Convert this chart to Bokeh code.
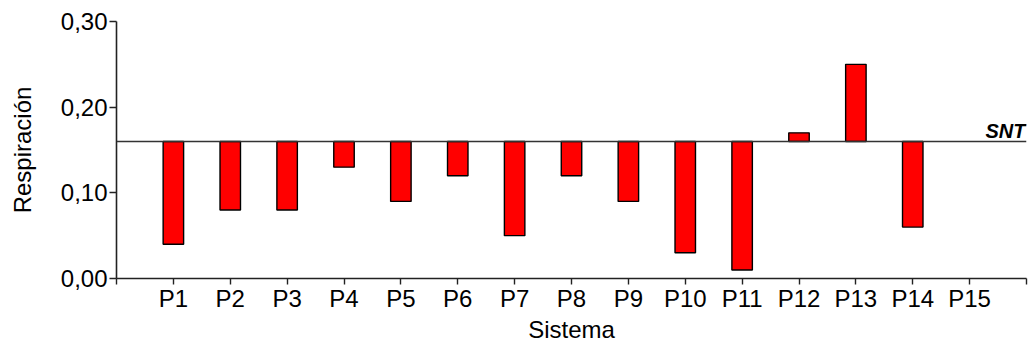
from bokeh.plotting import figure
from bokeh.models import Range1d, FixedTicker, CustomJSTickFormatter, Span, ColumnDataSource
from bokeh.core.properties import value
from bokeh.embed import file_html
from bokeh.resources import INLINE

categories = ["P1", "P2", "P3", "P4", "P5", "P6", "P7", "P8", "P9", "P10",
              "P11", "P12", "P13", "P14", "P15"]
respiracion = [0.04, 0.08, 0.08, 0.13, 0.09, 0.12, 0.05, 0.12, 0.09, 0.03,
               0.01, 0.17, 0.25, 0.06]
snt = 0.16
snt_label = "SNT"
y_ticks = [0.0, 0.1, 0.2, 0.3]

FONT = "Liberation Sans"

n = len(categories)
xs = list(range(1, len(respiracion) + 1))
src = ColumnDataSource(dict(x=xs, top=respiracion, bottom=[snt] * len(respiracion)))

p = figure(width=1028, height=345, x_range=Range1d(0, n + 1), y_range=Range1d(0, 0.30),
           output_backend="svg", toolbar_location=None,
           min_border_left=116, min_border_right=2, min_border_top=21, min_border_bottom=67)
p.outline_line_color = None
p.xgrid.visible = False
p.ygrid.visible = False
p.background_fill_color = "white"
p.border_fill_color = "white"

p.vbar(x="x", width=0.36, top="top", bottom="bottom", source=src,
       fill_color="#ff0000", line_color="#000000", line_width=1.4)

p.add_layout(Span(location=snt, dimension="width", line_color="#333333", line_width=1.6))
p.text(x=[n + 1], y=[snt], text=[snt_label], text_align="right", text_baseline="alphabetic",
       x_offset=-1, y_offset=-10, text_font=value(FONT), text_font_size="20px",
       text_font_style="bold italic", text_color="#000000")

# x axis
xa = p.xaxis[0]
xa.ticker = FixedTicker(ticks=list(range(0, n + 2)))
overrides = {0: "", n + 1: ""}
for i, c in enumerate(categories):
    overrides[i + 1] = c
xa.major_label_overrides = overrides
xa.axis_label = "Sistema"
xa.minor_tick_line_color = None
xa.major_tick_in = 0
xa.major_tick_out = 6
xa.major_label_standoff = 0
xa.axis_label_standoff = 1
xa.axis_line_width = 1.6
xa.axis_line_color = "#222222"
xa.major_tick_line_width = 1.4
xa.major_tick_line_color = "#222222"
xa.major_label_text_font = FONT
xa.major_label_text_font_size = "24px"
xa.major_label_text_color = "#000000"
xa.axis_label_text_font = FONT
xa.axis_label_text_font_size = "24px"
xa.axis_label_text_font_style = "normal"
xa.axis_label_text_color = "#000000"

# y axis
ya = p.yaxis[0]
ya.ticker = FixedTicker(ticks=y_ticks)
ya.formatter = CustomJSTickFormatter(code="return tick.toFixed(2).replace('.', ',');")
ya.axis_label = "Respiración"
ya.minor_tick_line_color = None
ya.major_tick_in = 0
ya.major_tick_out = 7
ya.major_label_standoff = 2
ya.axis_label_standoff = 22
ya.axis_line_width = 1.6
ya.axis_line_color = "#222222"
ya.major_tick_line_width = 1.4
ya.major_tick_line_color = "#222222"
ya.major_label_text_font = FONT
ya.major_label_text_font_size = "24px"
ya.major_label_text_color = "#000000"
ya.axis_label_text_font = FONT
ya.axis_label_text_font_size = "24px"
ya.axis_label_text_font_style = "normal"
ya.axis_label_text_color = "#000000"

open("out.html", "w").write(file_html(p, INLINE))
